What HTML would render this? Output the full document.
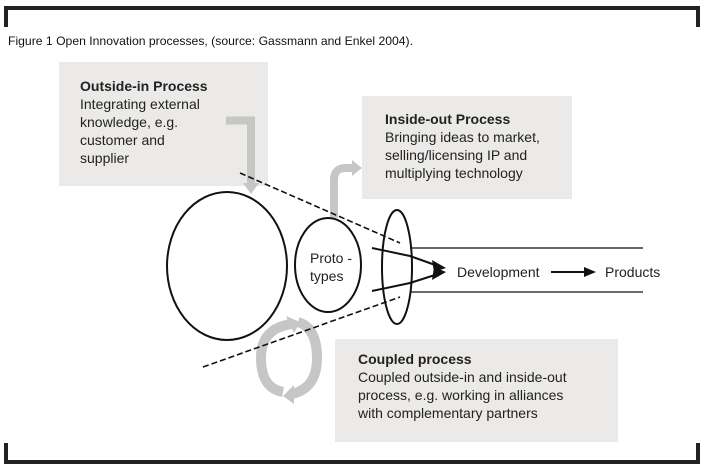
<!DOCTYPE html>
<html><head><meta charset="utf-8"><style>
html,body{margin:0;padding:0;background:#fff;}
body{width:706px;height:469px;position:relative;overflow:hidden;font-family:"Liberation Sans",sans-serif;}
</style></head><body>
<svg width="706" height="469" viewBox="0 0 706 469" xmlns="http://www.w3.org/2000/svg" style="position:absolute;left:0;top:0">
<path d="M6 27 V8 H698 V27" fill="none" stroke="#222" stroke-width="4"/>
<path d="M6 443 V462 H698 V443" fill="none" stroke="#222" stroke-width="4"/>
<text x="8" y="45" font-size="12" fill="#111" textLength="405" lengthAdjust="spacingAndGlyphs">Figure 1 Open Innovation processes, (source: Gassmann and Enkel 2004).</text>
<rect x="59" y="62" width="209" height="124" fill="#ebeae8"/>
<rect x="362" y="96" width="210" height="103" fill="#ebeae8"/>
<rect x="335" y="339" width="283" height="103" fill="#ebeae8"/>
<g font-size="14" fill="#222">
<text x="80" y="91" font-weight="bold">Outside-in Process</text>
<text x="80" y="109">Integrating external</text>
<text x="80" y="127">knowledge, e.g.</text>
<text x="80" y="145">customer and</text>
<text x="80" y="163">supplier</text>
<text x="385" y="124" font-weight="bold">Inside-out Process</text>
<text x="385" y="142">Bringing ideas to market,</text>
<text x="385" y="160">selling/licensing IP and</text>
<text x="385" y="178">multiplying technology</text>
<text x="358" y="364" font-weight="bold">Coupled process</text>
<text x="358" y="382">Coupled outside-in and inside-out</text>
<text x="358" y="400">process, e.g. working in alliances</text>
<text x="358" y="418">with complementary partners</text>
</g>
<path d="M226 120.5 H251 V184" fill="none" stroke="#c6c6c4" stroke-width="8"/>
<polygon points="243,183 259,183 251,194" fill="#c6c6c4"/>
<path d="M334 218 V180 Q334 168 346 168 H353" fill="none" stroke="#c6c6c4" stroke-width="8"/>
<polygon points="352,160 352,176 362,168" fill="#c6c6c4"/>
<path d="M292 324 Q261 328 261 358 Q261 388 283 392" fill="none" stroke="#c6c6c4" stroke-width="10"/>
<polygon points="286,316 294,333 300,322" fill="#c6c6c4"/>
<path d="M298 322 Q317 328 317 358 Q317 388 292 394" fill="none" stroke="#c6c6c4" stroke-width="10"/>
<polygon points="283,396 294,385 294,404" fill="#c6c6c4"/>
<ellipse cx="227" cy="266" rx="60" ry="74" fill="none" stroke="#111" stroke-width="2"/>
<ellipse cx="328" cy="265" rx="33" ry="47" fill="none" stroke="#111" stroke-width="2"/>
<ellipse cx="397" cy="267" rx="15" ry="57" fill="none" stroke="#111" stroke-width="2"/>
<text x="310" y="263" font-size="14" fill="#222">Proto -</text>
<text x="310" y="281" font-size="14" fill="#222">types</text>
<line x1="240" y1="173" x2="400" y2="243" stroke="#111" stroke-width="1.6" stroke-dasharray="6,3"/>
<line x1="203" y1="367" x2="400" y2="297" stroke="#111" stroke-width="1.6" stroke-dasharray="6,3"/>
<line x1="410" y1="248" x2="643" y2="248" stroke="#111" stroke-width="1.2"/>
<line x1="410" y1="292" x2="643" y2="292" stroke="#111" stroke-width="1.2"/>
<polyline points="372,248 410,256 438,266" fill="none" stroke="#111" stroke-width="2"/>
<polyline points="372,291 410,283 438,274" fill="none" stroke="#111" stroke-width="2"/>
<polygon points="446,268 432,260 434,272" fill="#111"/>
<polygon points="446,272 434,267 432,280" fill="#111"/>
<text x="457" y="277" font-size="14" fill="#222">Development</text>
<line x1="551" y1="272" x2="585" y2="272" stroke="#111" stroke-width="2"/>
<polygon points="596,272 584,267 584,277" fill="#111"/>
<text x="605" y="277" font-size="14" fill="#222">Products</text>
</svg>
</body></html>
